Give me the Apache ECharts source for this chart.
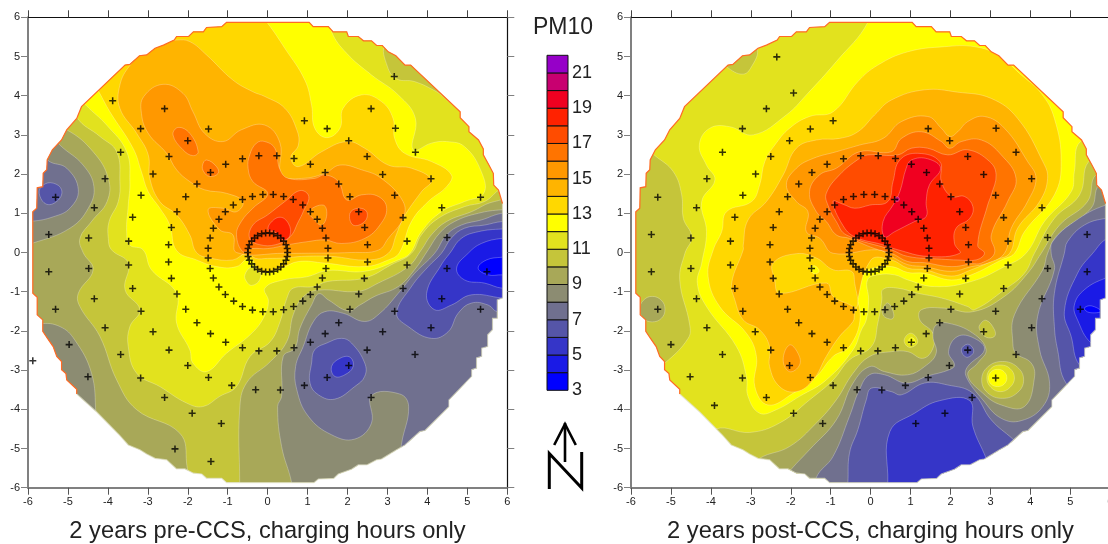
<!DOCTYPE html>
<html><head><meta charset="utf-8">
<style>html,body{margin:0;padding:0;background:#fff}#c{width:1108px;height:544px}</style>
<script src="https://cdn.jsdelivr.net/npm/echarts@6/dist/echarts.min.js"></script>
</head><body><div id="c"></div>
<script>
// Colour of each 1-unit PM10 band, keyed by the band's lower bound
const bandLevels=[3,4,5,6,7,8,9,10,11,12,13,14,15,16,17,18,19,20,21];
const bandColors=['#0000ff','#1a1ae6','#3535c8','#5555a8','#70708f','#8c8c72','#a8a858','#c5c53a','#e2e21e','#ffff00','#ffd800','#ffb400','#ff9800','#ff7400','#ff4c00','#ff2200','#f00020','#c80070','#9600c8'];
const legendTicks=[3,5,7,9,11,13,15,17,19,21];

// Outline of the sampled disc
const rimUpper=[[-4.78,-3.61],[-4.78,-3.49],[-5.03,-3.25],[-5.05,-3.09],[-5.16,-2.99],[-5.16,-2.78],[-5.28,-2.65],[-5.37,-2.40],[-5.52,-2.18],[-5.63,-2.01],[-5.63,-1.72],[-5.77,-1.59],[-5.77,-1.14],[-5.88,-1.04],[-5.88,1.04],[-5.78,1.13],[-5.77,1.65],[-5.63,1.68],[-5.62,2.02],[-5.53,2.11],[-5.52,2.36],[-5.39,2.62],[-5.16,2.87],[-5.03,3.13],[-4.78,3.42],[-4.66,3.72],[-3.57,4.78],[-3.45,4.80],[-3.21,5.02],[-3.03,5.04],[-2.82,5.21],[-2.61,5.29],[-2.34,5.42],[-2.28,5.51],[-1.98,5.51],[-1.86,5.63],[-1.61,5.63],[-1.53,5.74],[-1.15,5.76],[-1.03,5.87],[1.04,5.87],[1.14,5.76],[1.52,5.76],[1.64,5.63],[1.98,5.63],[2.02,5.51],[2.27,5.51],[2.40,5.40],[2.60,5.40],[2.73,5.28],[2.87,5.28],[3.02,5.12],[3.21,5.02],[3.44,4.78],[3.58,4.78],[4.82,3.59],[4.82,3.44],[5.04,3.21],[5.04,3.08],[5.28,2.87],[5.40,2.64],[5.40,2.49],[5.54,2.23],[5.65,2.02],[5.66,1.72],[5.78,1.59],[5.88,1.25]];
const rimLower=[[5.88,1.25],[5.88,-1.16],[5.75,-1.21],[5.75,-1.68],[5.63,-1.68],[5.63,-1.97],[5.51,-2.10],[5.51,-2.40],[5.36,-2.44],[5.36,-2.65],[5.23,-2.69],[5.23,-2.95],[5.11,-2.99],[5.11,-3.16],[4.54,-3.76],[4.54,-3.93],[3.94,-4.54],[3.81,-4.57],[3.44,-4.91],[3.23,-5.03],[2.85,-5.27],[2.73,-5.29],[2.48,-5.42],[2.27,-5.42],[2.10,-5.53],[1.77,-5.65],[1.66,-5.76],[1.27,-5.78],[1.16,-5.87],[-1.03,-5.87],[-1.15,-5.76],[-1.53,-5.76],[-1.65,-5.65],[-1.86,-5.63],[-2.07,-5.52],[-2.28,-5.52],[-2.53,-5.29],[-2.82,-5.25],[-3.03,-5.14],[-3.20,-5.03],[-3.49,-4.91],[-3.70,-4.67],[-4.28,-4.07],[-4.78,-3.61]];
const wholeSquare=[[-8,-8],[-8,8],[8,8],[8,-8]];

// ---------- pre-CCS contours (data units) ----------
const preWest10=[[-5.03,3.13],[-4.37,2.57],[-3.99,1.89],[-4.02,1.30],[-4.41,0.79],[-4.70,0.36],[-4.62,0.0],[-4.37,-0.44],[-4.74,-1.04],[-4.70,-1.38],[-4.2,-2.14],[-3.78,-3.25],[-3.28,-4.01],[-2.2,-4.61],[-2.03,-5.37],[-2.05,-6.2],[-4,-6.4],[-6.5,-4],[-6.5,1],[-5.8,3.4]];
const preWest9=[[-5.2,2.74],[-4.62,2.23],[-4.35,1.68],[-4.49,1.13],[-4.95,0.62],[-5.88,0.24],[-6.5,0.1],[-6.5,2.74],[-5.6,3.2]];
const preSouthWest9=[[-5.7,-1.82],[-5.2,-1.89],[-4.83,-2.23],[-4.41,-3.08],[-4.3,-4.1],[-4.3,-4.5],[-5.5,-4],[-6.2,-2]];
const preWest8=[[-5.49,2.34],[-5.03,2.15],[-4.74,1.60],[-4.95,1.13],[-5.37,0.91],[-5.88,0.80],[-6.4,0.8],[-6.4,2.4],[-5.6,2.6]];
const preWest7=[[-5.72,1.51],[-5.62,1.72],[-5.37,1.77],[-5.16,1.60],[-5.24,1.34],[-5.53,1.23]];
const preHigh11=[[-4.77,3.44],[-4.2,2.96],[-3.78,2.57],[-3.7,1.81],[-3.74,1.30],[-3.97,0.79],[-3.99,0.36],[-3.91,0.07],[-3.49,-0.27],[-3.57,-0.95],[-3.2,-1.46],[-3.45,-1.89],[-3.49,-2.40],[-3.28,-3.08],[-2.7,-3.42],[-2.03,-3.84],[-1.62,-3.93],[-1.2,-3.67],[-0.78,-3.42],[-0.44,-2.65],[0.06,-2.28],[0.31,-1.77],[0.48,-1.17],[0.64,-0.91],[1.14,-0.87],[1.5,-0.74],[2.43,-0.65],[3.1,-0.31],[3.6,-0.02],[3.85,0.45],[4.27,0.87],[4.93,1.17],[5.43,1.30],[5.73,1.55],[6.1,1.9],[6.2,4],[3,6.3],[-2,6.3],[-5,4.2]];
const preNorthEast10=[[2.95,5.3],[3.0,4.74],[3.23,4.43],[3.68,4.36],[4.23,4.10],[4.7,3.8],[5,4.4],[3.6,5.4]];
const preSe10=[[-0.7,-6.3],[-0.7,-5.87],[-0.7,-4.01],[-0.53,-3.33],[0.06,-2.79],[0.48,-2.27],[0.64,-1.59],[0.89,-1.13],[1.27,-0.96],[2.27,-0.99],[2.77,-0.78],[3.52,-0.36],[3.85,0.07],[4.1,0.45],[4.48,0.79],[5.1,1.04],[5.68,1.3],[6.3,1.3],[6.6,-3],[6.3,-6.3]];
const preSe9=[[0.6,-6.2],[0.6,-5.87],[0.35,-4.95],[0.25,-3.93],[0.35,-3.67],[0.39,-2.65],[0.68,-2.44],[0.81,-1.93],[1.1,-1.34],[1.28,-1.05],[1.52,-1.21],[2.02,-1.49],[2.31,-1.34],[2.68,-1.12],[3.27,-0.87],[3.68,-0.44],[4.02,0.07],[4.31,0.50],[4.68,0.79],[5.27,1.0],[5.87,1.09],[6.5,1.09],[6.6,-3],[6.5,-6.2]];
const preSe8=[[6.5,1.0],[5.87,1.0],[5.35,0.83],[4.85,0.70],[4.48,0.45],[4.18,-0.02],[3.68,-0.53],[3.27,-1.04],[2.81,-1.55],[2.43,-1.76],[1.89,-1.55],[1.43,-1.51],[1.14,-1.77],[0.89,-2.40],[0.7,-2.91],[0.73,-3.50],[1.02,-4.18],[1.6,-4.65],[2.18,-4.76],[2.6,-4.35],[2.6,-3.65],[3.31,-3.61],[3.53,-3.93],[3.35,-4.90],[3.3,-5.6],[6.5,-5.6]];
const preSe7=[[5.87,0.79],[5.43,0.70],[4.93,0.62],[4.6,0.37],[4.35,-0.02],[4.02,-0.36],[3.6,-0.87],[3.23,-1.55],[3.52,-1.89],[4.1,-2.19],[4.52,-2.02],[4.77,-1.55],[5.1,-1.29],[5.52,-1.34],[5.75,-1.51],[6.4,-1.5],[6.4,0.79]];
const preCentre7=[[1.18,-2.48],[1.48,-2.31],[1.85,-2.19],[2.1,-2.31],[2.43,-2.82],[2.43,-3.16],[2.18,-3.42],[1.68,-3.74],[1.27,-3.63],[1.06,-3.33],[1.1,-2.82]];
const preCentre6=[[1.6,-2.91],[1.81,-2.70],[2.06,-2.67],[2.14,-2.91],[1.93,-3.12],[1.68,-3.16]];
const preSe6=[[5.87,0.6],[5.27,0.53],[4.85,0.36],[4.56,-0.02],[4.35,-0.31],[3.98,-1.04],[4.18,-1.46],[4.6,-1.34],[5.1,-1.08],[5.87,-1.16],[6.4,-1.2],[6.4,0.6]];
const preSe5=[[5.87,0.36],[5.35,0.23],[5.02,-0.02],[4.73,-0.40],[4.93,-0.70],[5.43,-0.78],[5.87,-0.91],[6.4,-0.9],[6.4,0.36]];
const preSe4=[[5.27,-0.40],[5.48,-0.19],[5.87,-0.12],[6.2,-0.1],[6.2,-0.6],[5.87,-0.57],[5.52,-0.57]];
const preHigh12=[[-4.55,3.76],[-4.03,3.25],[-3.53,2.57],[-3.45,1.81],[-3.49,1.21],[-3.53,0.53],[-3.45,0.19],[-3.12,0.07],[-2.91,-0.44],[-2.28,-1.04],[-2.28,-1.80],[-1.95,-2.48],[-1.87,-2.82],[-1.53,-3.04],[-1.03,-2.57],[-0.44,-2.1],[-0.11,-1.68],[0.02,-1.25],[-0.07,-0.91],[0.39,-0.7],[0.98,-0.62],[1.5,-0.46],[2.43,-0.48],[3.27,-0.19],[3.56,-0.02],[3.85,0.53],[4.35,1.04],[4.93,1.30],[5.41,1.51],[5.35,2.06],[4.93,2.70],[4.48,2.83],[4.1,2.79],[3.64,2.62],[3.7,3.42],[3.27,4.02],[2.6,4.53],[1.98,5.08],[1.6,5.63],[1.5,6.2],[-2,6.3],[-5,4.3]];
const prePocket11=[[-0.57,-0.57],[-0.4,-0.36],[-0.2,-0.4],[-0.2,-0.7],[-0.4,-0.84],[-0.53,-0.74]];
const preHigh13=[[-4.22,4.09],[-3.95,3.59],[-3.37,2.66],[-3.16,2.06],[-2.99,1.55],[-2.7,1.13],[-2.45,0.70],[-2.28,0.05],[-1.78,-0.19],[-1.28,-0.36],[-0.78,-0.36],[-0.45,-0.14],[-0.2,-0.5],[0,-0.5],[0.35,-0.4],[0.77,-0.23],[1.43,-0.27],[2.43,-0.36],[3.02,-0.19],[3.3,0.0],[3.6,0.79],[4.02,1.30],[4.48,1.68],[4.6,1.98],[4.1,2.32],[3.43,2.53],[3.18,2.91],[3.14,3.42],[2.85,3.85],[2.35,4.02],[1.89,3.68],[1.81,3.17],[1.48,2.93],[1.18,3.17],[1.1,3.76],[0.93,4.40],[0.43,5.21],[0,5.85],[-0.3,6.2],[-3.5,5.8],[-4.4,4.4]];
const preHigh14=[[-3.45,4.77],[-3.7,4.27],[-3.7,3.68],[-3.28,3.04],[-2.99,2.49],[-2.95,1.89],[-2.7,1.3],[-2.28,0.96],[-1.95,0.45],[-1.78,0.0],[-1.45,-0.14],[-0.87,-0.19],[-0.53,-0.02],[-0.3,-0.15],[0,-0.15],[0.43,-0.14],[0.85,-0.1],[1.6,-0.1],[2.52,-0.19],[3.02,-0.02],[3.22,0.45],[3.39,0.87],[3.85,1.55],[4.1,1.85],[3.6,2.15],[3.02,2.23],[2.43,2.66],[1.98,2.83],[1.35,2.57],[0.77,2.19],[0.58,2.42],[0.77,2.74],[0.73,3.13],[0.43,3.68],[-0.07,3.98],[-0.37,4.1],[-0.87,4.40],[-1.53,5.04],[-1.95,5.38],[-2.28,5.42],[-2.7,5.34],[-3.03,5.17]];
const preHigh15=[[-3.16,3.55],[-3.1,3.98],[-2.62,4.29],[-2.12,4.06],[-1.87,3.59],[-1.58,3.04],[-1.12,2.83],[-0.66,3.13],[-0.07,3.25],[0.31,2.79],[0.35,1.98],[0.85,1.89],[1.43,2.02],[1.81,2.23],[2.35,2.11],[2.85,1.89],[3.39,1.30],[3.39,0.87],[3.02,0.36],[2.77,0.06],[2.1,0.0],[0.85,-0.02],[0.43,-0.02],[-0.78,0],[-0.87,0.45],[-1.2,0.58],[-1.49,1.09],[-1.12,1.13],[-0.78,1.04],[-0.62,1.30],[-1.03,1.51],[-1.58,1.6],[-1.95,1.81],[-2.28,2.11],[-2.53,2.53],[-2.99,3.04]];
const preNw16=[[-2.37,3.0],[-2.24,3.19],[-1.95,3.04],[-1.74,2.57],[-1.87,2.47],[-2.12,2.62]];
const preMid16=[[-1.63,2.23],[-1.53,2.36],[-1.28,2.19],[-1.24,2.02],[-1.45,1.94],[-1.6,2.06]];
const preHigh16=[[-0.45,2.49],[-0.28,2.79],[-0.07,2.83],[0.18,2.66],[0.31,2.11],[0.52,1.89],[1.18,1.89],[1.43,1.98],[1.77,1.81],[1.98,1.34],[2.35,1.47],[2.77,1.43],[2.98,1.13],[2.81,0.70],[2.43,0.36],[1.85,0.23],[1.43,0.32],[1.02,0.28],[0.52,0.2],[0,0.1],[-0.4,0.1],[-0.62,0.02],[-0.78,0.45],[-0.66,0.79],[-0.37,1.13],[0,1.5],[-0.37,1.81],[-0.49,2.15]];
const prePocket15=[[1.02,1.04],[1.39,1.21],[1.48,0.96],[1.35,0.70],[1.14,0.87]];
const preEast17=[[2.06,1.0],[2.27,1.13],[2.48,1.04],[2.43,0.79],[2.14,0.70]];
const preHigh17=[[-0.45,0.36],[-0.37,0.70],[0,0.96],[0.43,1.3],[0.81,1.58],[1.03,1.43],[0.89,1.04],[0.77,0.79],[0.56,0.4],[0.2,0.2],[-0.2,0.2]];
const preHigh18=[[0.06,0.74],[0.31,0.9],[0.52,0.74],[0.56,0.44],[0.39,0.32],[0.18,0.53],[0.02,0.57]];
const preLayers=[[10,wholeSquare],[9,preWest10],[8,preWest9],[8,preSouthWest9],[7,preWest8],[6,preWest7],[11,preHigh11],[10,preNorthEast10],[9,preSe10],[8,preSe9],[7,preSe8],[6,preSe7],[6,preCentre7],[5,preCentre6],[5,preSe6],[4,preSe5],[3,preSe4],[12,preHigh12],[11,prePocket11],[13,preHigh13],[14,preHigh14],[15,preHigh15],[16,preNw16],[16,preMid16],[16,preHigh16],[15,prePocket15],[17,preEast17],[17,preHigh17],[18,preHigh18]];

// ---------- post-CCS contours (data units) ----------
const postWest10=[[-5.4,2.47],[-4.94,2.06],[-4.73,1.47],[-4.69,0.87],[-4.48,0.4],[-4.65,-0.02],[-4.78,-0.7],[-4.53,-1.85],[-4.57,-2.19],[-5.15,-2.82],[-5.7,-3.2],[-6.4,-2],[-6.4,2],[-5.7,2.7]];
const postNw10=[[-3.61,4.74],[-3.19,4.55],[-2.96,4.78],[-2.83,5.17],[-3.0,5.5],[-3.8,5.0]];
const postWest9=[[-5.15,-1.45],[-5.24,-1.22],[-5.47,-1.12],[-5.69,-1.22],[-5.78,-1.45],[-5.69,-1.68],[-5.47,-1.77],[-5.24,-1.68]];
const postLow10=[[-4.1,-5.0],[-3.86,-4.5],[-3.03,-4.59],[-2.28,-4.35],[-1.53,-3.76],[-0.94,-3.25],[-0.53,-2.74],[0.02,-2.4],[0.18,-1.8],[0.28,-1.21],[0.31,-0.94],[0.68,-0.91],[1.18,-1.04],[1.77,-1.16],[2.43,-1.38],[2.6,-1.46],[3.35,-0.95],[3.85,-0.53],[4.1,-0.02],[4.6,0.87],[5.23,1.47],[5.46,2.32],[6,2.4],[6.4,-3],[6.3,-6.3],[-4.1,-6.3]];
const postLow9=[[-2.78,-5.25],[-2.03,-4.95],[-1.36,-4.35],[-0.86,-3.76],[-0.44,-3.08],[-0.02,-2.65],[0.52,-2.53],[0.93,-2.53],[1.31,-2.7],[1.56,-2.44],[1.56,-2.06],[1.23,-1.72],[1.27,-1.46],[1.85,-1.42],[2.56,-1.51],[3.35,-1.12],[3.93,-0.53],[4.27,-0.02],[4.73,0.7],[5.43,1.3],[5.64,1.98],[6.2,2.0],[6.4,-3],[6.3,-6.3],[-3,-6.3],[-3.1,-5.6]];
const postPatch10=[[2.73,-1.85],[2.89,-1.73],[3.1,-1.97],[3.1,-2.14],[2.89,-2.16],[2.73,-1.97]];
const postPatch9=[[0.31,-1.42],[0.43,-1.29],[0.56,-1.5],[0.56,-1.68],[0.42,-1.68],[0.31,-1.59]];
const postDot11=[[0.85,-2.19],[1.02,-2.06],[1.18,-2.27],[1.02,-2.42],[0.88,-2.36]];
const postDot12=[[0.95,-2.25],[1.03,-2.17],[1.12,-2.28],[1.02,-2.35]];
const postLow8=[[-1.98,-5.52],[-1.53,-5.03],[-0.86,-4.27],[-0.44,-3.33],[-0.02,-2.91],[0.35,-3.04],[0.93,-3.12],[1.35,-2.91],[1.64,-2.57],[1.56,-2.14],[1.64,-1.85],[1.93,-1.8],[2.56,-2.06],[2.89,-2.48],[2.68,-2.82],[2.43,-3.12],[2.81,-3.59],[3.27,-3.89],[3.85,-3.93],[4.1,-3.2],[4.02,-2.82],[3.64,-2.57],[3.56,-2.31],[3.6,-1.59],[4.31,-0.44],[4.43,-0.02],[4.68,0.45],[5.52,1.13],[5.72,1.72],[6.2,1.8],[6.4,-3],[6.3,-6.3],[-2,-6.3],[-2.1,-5.7]];
const postHot10=[[2.78,-3.25],[2.93,-2.92],[3.3,-2.78],[3.67,-2.92],[3.83,-3.25],[3.67,-3.58],[3.3,-3.72],[2.93,-3.58]];
const postHot11=[[2.91,-3.2],[3.01,-2.96],[3.25,-2.87],[3.49,-2.96],[3.6,-3.2],[3.49,-3.44],[3.25,-3.55],[3.01,-3.44]];
const postHot12=[[2.95,-3.2],[3.02,-3.04],[3.18,-2.98],[3.34,-3.04],[3.41,-3.2],[3.34,-3.36],[3.18,-3.42],[3.02,-3.36]];
const postLow7=[[-1.36,-5.74],[-0.94,-5.2],[-0.53,-4.18],[-0.28,-3.5],[-0.03,-3.12],[0.35,-3.12],[0.89,-3.33],[1.43,-3.15],[1.97,-2.99],[2.1,-2.87],[1.95,-2.53],[2.18,-2.14],[2.6,-2.19],[2.85,-2.48],[2.43,-2.91],[2.39,-3.16],[2.81,-3.76],[3.27,-4.23],[3.77,-4.29],[4.31,-3.93],[4.48,-3.33],[4.23,-2.48],[4.18,-1.63],[4.6,-0.44],[4.52,-0.02],[4.56,0.28],[5.1,0.79],[5.89,1.21],[6.3,1.2],[6.4,-3],[6.3,-6.3],[-1.4,-6.3]];
const postSouth6=[[-0.57,-5.87],[-0.53,-5.12],[-0.32,-4.52],[-0.11,-3.76],[0.02,-3.46],[0.52,-3.55],[0.77,-3.63],[1.35,-3.33],[1.93,-3.38],[2.56,-3.59],[3.02,-4.27],[3.56,-4.76],[3.8,-5.0],[3.8,-6.3],[-0.6,-6.3]];
const postEast6=[[5.89,0.87],[5.35,0.7],[4.93,0.28],[4.85,-0.02],[4.6,-1.04],[4.6,-1.89],[4.68,-2.48],[4.89,-3.33],[5.5,-3.8],[6.3,-3.8],[6.3,0.87]];
const postBlob6=[[2.27,-2.48],[2.42,-2.34],[2.56,-2.44],[2.56,-2.58],[2.39,-2.67]];
const postSouth5=[[0.43,-6.3],[0.43,-5.87],[0.48,-4.57],[1.1,-4.1],[1.73,-3.78],[2.48,-3.78],[2.56,-4.44],[2.89,-5.25],[3.0,-5.6],[3,-6.3]];
const postEast5=[[5.93,0.36],[5.56,-0.02],[5.18,-0.53],[4.85,-1.5],[5.02,-2.14],[5.23,-2.87],[5.8,-3.2],[6.3,-3],[6.3,0.36]];
const postEast4=[[5.89,-0.65],[5.35,-0.95],[5.1,-1.34],[5.18,-1.72],[5.52,-2.31],[6,-2.5],[6.3,-1],[6.2,-0.6]];
const postEast3=[[5.35,-1.42],[5.52,-1.36],[5.77,-1.5],[5.47,-1.53]];
const postHigh12=[[-0.07,5.87],[-0.86,4.87],[-1.61,4.02],[-2.11,3.51],[-2.94,3.0],[-3.53,3.21],[-4.03,3.17],[-4.29,2.74],[-4.11,2.23],[-3.9,1.85],[-4.23,1.3],[-4.11,0.53],[-4.23,-0.27],[-4.34,-0.78],[-4.11,-1.38],[-3.36,-2.4],[-3.11,-3.16],[-3.07,-3.67],[-2.78,-4.1],[-2.36,-4.01],[-1.78,-3.67],[-1.11,-3.25],[-0.44,-2.48],[-0.23,-1.97],[-0.11,-1.72],[-0.05,-1.21],[-0.08,-0.7],[0.18,-0.57],[0.6,-0.57],[0.93,-0.7],[1.6,-0.87],[2.52,-0.74],[3.35,-0.36],[3.89,-0.02],[4.35,0.79],[5.02,1.55],[5.1,2.06],[5.25,2.83],[6,3],[5,5],[2,6.3],[-0.1,6.3]];
const postHigh13=[[4.27,4.06],[4.6,3.42],[4.77,2.32],[4.6,1.47],[3.85,0.53],[3.6,-0.02],[3.27,-0.19],[2.52,-0.57],[2.02,-0.7],[1.35,-0.53],[0.93,-0.51],[0.52,-0.36],[-0.07,-0.44],[-0.44,-0.7],[-0.26,-1.63],[-0.53,-2.4],[-0.94,-2.65],[-1.36,-3.16],[-1.94,-3.59],[-2.57,-3.89],[-2.9,-3.42],[-2.86,-2.65],[-3.11,-2.06],[-3.78,-1.38],[-4.07,-0.61],[-3.94,0.07],[-3.73,0.53],[-3.61,1.04],[-2.98,1.3],[-2.78,1.72],[-2.65,2.32],[-2.4,2.74],[-2.03,3.17],[-1.53,3.47],[-0.94,3.59],[-0.32,4.36],[0.18,4.78],[0.93,5.12],[1.85,5.25],[2.6,5.25],[3.18,5.04],[3.77,4.53]];
const postHigh14=[[0.52,3.89],[1.35,4.15],[2.18,4.09],[3.02,3.93],[3.68,3.42],[4.31,2.32],[4.43,1.89],[4.23,1.3],[3.68,0.62],[3.48,-0.02],[3.1,-0.19],[2.52,-0.44],[2.02,-0.6],[1.35,-0.44],[0.93,-0.4],[0.52,-0.19],[0,-0.2],[-0.4,-1.55],[-0.44,-1.76],[-0.78,-2.14],[-1.11,-2.65],[-1.44,-3.25],[-1.86,-3.55],[-2.28,-3.42],[-2.53,-2.91],[-2.53,-2.4],[-2.78,-1.97],[-3.19,-1.72],[-3.4,-1.21],[-3.48,-0.78],[-3.19,0.07],[-3.19,0.19],[-3.07,0.83],[-2.61,1.3],[-2.19,1.98],[-1.86,2.66],[-1.36,2.87],[-0.78,2.91],[-0.32,3.08],[0.1,3.51]];
const postPocket13=[[-2.44,-0.27],[-1.86,-0.03],[-1.36,-0.14],[-0.94,-0.44],[-0.48,-0.48],[-0.4,-0.78],[-0.34,-1.38],[-0.61,-1.29],[-0.94,-1.12],[-1.11,-0.78],[-2.28,-1.04],[-2.4,-0.7]];
const postPocket12=[[-1.52,-0.4],[-1.4,-0.34],[-1.29,-0.48],[-1.42,-0.54]];
const postHigh15=[[0.31,2.91],[0.77,3.34],[1.43,3.47],[1.77,3.17],[1.98,2.96],[2.18,3.08],[2.43,3.34],[2.85,3.47],[3.35,3.17],[3.93,2.32],[4.14,1.89],[3.93,1.3],[3.52,0.62],[3.35,-0.02],[2.93,-0.27],[2.52,-0.36],[2.02,-0.48],[1.35,-0.36],[0.93,-0.31],[0.52,-0.1],[0.18,0.07],[-0.94,-0.02],[-1.27,0.36],[-1.61,0.53],[-1.57,1.04],[-1.86,1.3],[-2.11,1.72],[-1.86,2.15],[-1.44,2.4],[-0.86,2.57],[-0.28,2.74]];
const postSouth15=[[-2.19,-2.74],[-2.03,-2.36],[-1.82,-2.57],[-1.78,-2.87],[-2.03,-3.04]];
const postHigh16=[[0.52,2.57],[0.77,2.91],[1.27,3.08],[1.77,2.83],[1.98,2.66],[2.27,2.83],[2.77,2.87],[3.27,2.49],[3.64,1.89],[3.43,1.3],[3.02,0.45],[3.1,-0.02],[2.77,-0.27],[2.52,-0.29],[2.02,-0.36],[1.35,-0.26],[0.93,-0.23],[0.52,-0.02],[0.1,0.1],[-0.53,0.36],[-0.86,0.45],[-1.11,0.79],[-1.36,1.04],[-1.53,1.55],[-1.28,1.98],[-0.86,2.15],[-0.28,2.57]];
const postHigh17=[[0.68,2.49],[1.02,2.66],[1.43,2.66],[1.93,2.49],[2.43,2.62],[2.98,2.32],[3.14,1.98],[3.02,1.47],[2.93,1.21],[2.68,0.19],[2.85,-0.02],[2.64,-0.19],[2.18,-0.19],[1.77,-0.17],[0.93,-0.1],[0.52,0.07],[-0.61,0.45],[-0.86,0.79],[-1.07,1.21],[-1.11,1.51],[-0.78,1.98],[-0.28,2.4],[-0.07,2.49]];
const postHigh18=[[-0.94,1.3],[-0.69,1.23],[-0.4,1.13],[-0.02,1.21],[0.43,1.3],[0.56,1.81],[0.73,2.36],[1.18,2.53],[1.73,2.32],[1.77,1.81],[2.02,1.43],[2.35,1.43],[2.56,1.17],[2.48,0.87],[2.14,0.62],[2.1,0.23],[2.23,-0.02],[1.43,-0.1],[0.68,0.07],[0.3,0.2],[-0.4,0.4],[-0.7,0.7]];
const postHigh19=[[0.89,2.15],[1.02,2.36],[1.43,2.39],[1.75,2.15],[1.47,1.72],[1.39,1.3],[1.39,0.92],[1.1,0.79],[0.6,0.53],[0.35,0.4],[0.31,0.79],[0.56,1.21],[0.73,1.55]];
const postHigh20=[[0.6,1.37],[0.68,1.42],[0.72,1.34],[0.65,1.3]];
const postLayers=[[11,wholeSquare],[10,postWest10],[10,postNw10],[9,postWest9],[10,postLow10],[9,postLow9],[10,postPatch10],[9,postPatch9],[11,postDot11],[12,postDot12],[8,postLow8],[10,postHot10],[11,postHot11],[12,postHot12],[7,postLow7],[6,postSouth6],[6,postEast6],[6,postBlob6],[5,postSouth5],[5,postEast5],[4,postEast4],[3,postEast3],[12,postHigh12],[13,postHigh13],[14,postHigh14],[13,postPocket13],[12,postPocket12],[15,postHigh15],[15,postSouth15],[16,postHigh16],[17,postHigh17],[18,postHigh18],[19,postHigh19],[20,postHigh20]];

// ---------- sampling stations ----------
const preStations=[[-3.88,3.87],[-2.58,3.67],[-3.18,3.16],[-1.48,3.15],[-2.0,2.85],[-3.68,2.56],[-2.47,2.45],[-1.05,2.25],[-0.63,2.39],[-0.22,2.47],[-1.43,2.04],[-2.87,2.0],[-4.07,1.88],[-1.77,1.75],[-3.17,1.46],[-2.05,1.42],[-5.31,1.41],[-0.63,1.35],[-0.38,1.43],[-0.12,1.48],[-0.86,1.21],[-4.34,1.14],[-1.06,1.04],[-2.27,1.04],[-1.22,0.85],[-3.38,0.9],[-2.41,0.64],[-1.36,0.62],[-5.48,0.46],[-4.48,0.37],[-1.44,0.37],[-3.48,0.29],[-2.48,0.2],[-1.49,0.11],
[3.17,4.49],[2.59,3.67],[0.92,3.36],[1.49,3.16],[3.2,3.17],[2.03,2.85],[3.7,2.56],[0.23,2.47],[0.66,2.4],[2.49,2.45],[1.07,2.25],[1.44,2.04],[2.88,1.99],[4.09,1.88],[1.78,1.75],[0.14,1.48],[0.4,1.43],[0.64,1.35],[0.88,1.21],[2.06,1.42],[3.18,1.46],[5.33,1.41],[4.36,1.14],[1.07,1.04],[2.28,1.04],[1.24,0.85],[3.39,0.89],[1.37,0.62],[2.43,0.64],[1.46,0.37],[4.49,0.38],[1.51,0.11],[2.5,0.2],[3.49,0.29],
[-5.88,-2.76],[-5.48,-0.49],[-4.48,-0.41],[-3.48,-0.32],[-2.48,-0.24],[-1.49,-0.14],[-2.41,-0.66],[-1.44,-0.41],[-1.36,-0.65],[-3.38,-0.92],[-1.22,-0.88],[-2.27,-1.06],[-1.06,-1.07],[-4.34,-1.18],[-0.85,-1.24],[-0.63,-1.38],[-0.38,-1.47],[-0.12,-1.51],[-5.31,-1.45],[-3.17,-1.5],[-2.05,-1.45],[-1.77,-1.79],[-4.07,-1.92],[-2.87,-2.02],[-1.43,-2.07],[-1.05,-2.29],[-4.97,-2.35],[-0.63,-2.43],[-2.47,-2.49],[-0.22,-2.51],[-3.68,-2.6],[-2.0,-2.88],[-4.5,-3.17],[-3.18,-3.2],[-1.48,-3.19],[-0.9,-3.39],[-0.3,-3.5],[-2.58,-3.7],[-1.89,-4.1],[-1.16,-4.36],[-2.32,-5.01],[-1.42,-5.33],
[0.14,-1.51],[0.4,-1.46],[0.65,-1.38],[0.88,-1.24],[1.07,-1.07],[1.24,-0.88],[1.37,-0.65],[1.46,-0.41],[1.51,-0.14],[2.5,-0.24],[3.49,-0.32],[4.49,-0.41],[5.49,-0.49],[2.42,-0.66],[3.39,-0.92],[2.28,-1.06],[4.36,-1.18],[2.06,-1.45],[3.18,-1.5],[5.33,-1.45],[1.78,-1.79],[4.09,-1.92],[2.88,-2.02],[1.44,-2.07],[1.07,-2.29],[0.66,-2.43],[0.23,-2.51],[2.49,-2.49],[3.69,-2.6],[2.03,-2.88],[1.49,-3.19],[0.92,-3.39],[0.32,-3.51],[2.59,-3.7]];
const preRing=[[0.5,0],[0.49,0.1],[0.46,0.2],[0.4,0.29],[0.33,0.37],[0.25,0.43],[0.15,0.48],[0.05,0.5],[-0.05,0.5],[-0.15,0.48],[-0.25,0.43],[-0.33,0.37],[-0.4,0.29],[-0.46,0.2],[-0.49,0.1],[-0.5,0],[-0.49,-0.1],[-0.46,-0.2],[-0.4,-0.29],[-0.33,-0.37],[-0.25,-0.43],[-0.15,-0.48],[-0.05,-0.5],[0.05,-0.5],[0.15,-0.48],[0.25,-0.43],[0.33,-0.37],[0.4,-0.29],[0.46,-0.2],[0.49,-0.1]];
const postStations=[[-2.35,4.99],[-1.93,4.07],[-2.61,3.67],[-3.21,3.16],[-1.51,3.15],[-0.94,3.36],[-2.03,2.85],[-3.71,2.56],[-2.5,2.45],[-0.68,2.39],[-0.25,2.47],[-1.09,2.25],[-1.47,2.04],[-2.88,2.0],[-4.1,1.88],[-1.8,1.75],[-5.33,1.41],[-3.2,1.46],[-2.08,1.42],[-0.68,1.35],[-0.43,1.43],[-0.17,1.48],[-0.9,1.21],[-4.36,1.14],[-1.09,1.04],[-2.29,1.04],[-1.27,0.85],[-3.4,0.9],[-2.44,0.64],[-1.39,0.62],[-5.49,0.46],[-4.5,0.37],[-1.48,0.37],[-3.51,0.29],[-2.52,0.2],[-1.52,0.11],
[3.14,3.17],[1.44,3.16],[1.98,2.85],[3.64,2.56],[0.19,2.47],[0.62,2.4],[2.43,2.45],[1.02,2.25],[1.4,2.04],[2.83,1.99],[4.03,1.88],[1.73,1.75],[0.1,1.48],[0.36,1.43],[0.6,1.35],[0.83,1.21],[2.01,1.42],[3.13,1.46],[1.03,1.04],[2.23,1.04],[4.29,1.14],[1.19,0.85],[3.33,0.89],[1.33,0.62],[2.38,0.64],[1.42,0.37],[4.43,0.38],[5.42,0.46],[1.46,0.11],[2.45,0.2],[3.44,0.29],
[-5.49,-0.49],[-4.5,-0.41],[-3.51,-0.32],[-2.52,-0.24],[-1.52,-0.14],[-2.44,-0.66],[-1.48,-0.41],[-1.39,-0.65],[-3.4,-0.92],[-1.27,-0.88],[-2.29,-1.06],[-1.09,-1.07],[-4.36,-1.18],[-0.9,-1.24],[-0.68,-1.38],[-0.43,-1.47],[-0.17,-1.51],[-5.33,-1.45],[-3.2,-1.5],[-2.08,-1.45],[-1.8,-1.79],[-4.1,-1.92],[-2.89,-2.02],[-1.47,-2.07],[-1.09,-2.29],[-5.0,-2.35],[-0.68,-2.43],[-2.5,-2.49],[-0.25,-2.51],[-3.71,-2.6],[-2.03,-2.88],[-4.52,-3.17],[-3.21,-3.2],[-1.51,-3.19],[-0.94,-3.39],[-0.34,-3.5],[-2.61,-3.7],[-3.91,-3.9],[-1.93,-4.1],[-1.2,-4.36],
[0.1,-1.51],[0.36,-1.46],[0.6,-1.38],[0.83,-1.24],[1.03,-1.07],[1.19,-0.88],[1.33,-0.65],[1.42,-0.41],[1.46,-0.14],[2.45,-0.24],[3.44,-0.32],[4.43,-0.41],[5.42,-0.49],[2.38,-0.66],[3.33,-0.92],[2.23,-1.06],[4.29,-1.18],[2.01,-1.45],[3.13,-1.5],[5.25,-1.45],[1.73,-1.79],[4.03,-1.92],[2.83,-2.02],[1.39,-2.07],[1.02,-2.29],[0.62,-2.43],[0.18,-2.51],[2.43,-2.49],[3.64,-2.6],[1.97,-2.88],[1.44,-3.19],[3.13,-3.2],[0.87,-3.39],[0.28,-3.51],[2.54,-3.7],[1.86,-4.1],[1.13,-4.36]];
const postRing=[[0.46,0],[0.45,0.1],[0.42,0.2],[0.36,0.29],[0.29,0.37],[0.21,0.43],[0.11,0.48],[0.01,0.5],[-0.09,0.5],[-0.19,0.48],[-0.29,0.43],[-0.37,0.37],[-0.44,0.29],[-0.5,0.2],[-0.53,0.1],[-0.54,0],[-0.53,-0.1],[-0.5,-0.2],[-0.44,-0.29],[-0.37,-0.37],[-0.29,-0.43],[-0.19,-0.48],[-0.09,-0.5],[0.01,-0.5],[0.11,-0.48],[0.21,-0.43],[0.29,-0.37],[0.36,-0.29],[0.42,-0.2],[0.45,-0.1]];

const captions=['2 years pre-CCS, charging hours only','2 years post-CCS, charging hours only'];

const plus='path://M3.9 0h2.2v3.9h3.9v2.2h-3.9v3.9h-2.2v-3.9h-3.9v-2.2h3.9z';
const colorOf=l=>bandColors[bandLevels.indexOf(l)];
const chart=echarts.init(document.getElementById('c'),null,{renderer:'canvas'});

function contourSeries(layers,idx){
  const rim=rimUpper.concat(rimLower);
  return {type:'custom',xAxisIndex:idx,yAxisIndex:idx,coordinateSystem:'cartesian2d',clip:false,silent:true,z:2,
    data:layers.map((l,i)=>[i,l[0]]).concat([[layers.length,0],[layers.length+1,0]]),
    encode:{x:-1,y:-1},
    renderItem(p,api){
      const i=p.dataIndex, n=layers.length;
      if(i>=n){
        return {type:'polyline',shape:{points:(i===n?rimLower:rimUpper).map(c=>api.coord(c))},
          style:{fill:null,stroke:i===n?'rgba(225,225,205,0.7)':'#ff6a25',lineWidth:1.2}};
      }
      const pts=layers[i][1].map(c=>api.coord(c));
      return {type:'polygon',shape:{points:pts,smooth:layers[i][1]===wholeSquare?0:0.42},
        clipPath:{type:'polygon',shape:{points:rim.map(c=>api.coord(c))}},
        style:{fill:colorOf(layers[i][0]),stroke:'rgba(255,255,255,0.38)',lineWidth:0.7}};
    }};
}
function stationSeries(data,idx){
  return {type:'scatter',xAxisIndex:idx,yAxisIndex:idx,data:data,symbol:plus,symbolSize:7,silent:true,z:5,
    itemStyle:{color:'#000'},clip:false};
}
const grey='#808080';
const xA=(g,pos,lab)=>({type:'value',gridIndex:g,position:pos,min:-6,max:6,interval:1,splitLine:{show:false},
  axisLine:{onZero:false,show:true,lineStyle:{color:pos==='bottom'?grey:'#111',width:pos==='bottom'?2:1.2}},
  axisTick:{show:true,length:7,lineStyle:{color:pos==='bottom'?'#555':'#444',width:1}},
  axisLabel:{show:lab,margin:9,fontSize:11,color:'#222',fontFamily:'Liberation Sans',showMinLabel:true,showMaxLabel:true}});
const yA=(g,pos,lab)=>({type:'value',gridIndex:g,position:pos,min:-6,max:6,interval:1,splitLine:{show:false},
  axisLine:{onZero:false,show:true,lineStyle:{color:pos==='left'?grey:'#111',width:pos==='left'?2:1.2}},
  axisTick:{show:true,length:7,lineStyle:{color:grey,width:1}},
  axisLabel:{show:lab,margin:8,fontSize:11,color:'#222',fontFamily:'Liberation Sans',showMinLabel:true,showMaxLabel:true}});

const T=(text,x,y,size)=>({type:'text',x:x,y:y,style:{text,font:size+'px "Liberation Sans"',fill:'#222',align:'center',verticalAlign:'middle'}});
const L=(pts,w)=>({type:'polyline',shape:{points:pts},style:{stroke:'#000',lineWidth:w,fill:null}});

chart.setOption({animation:false,backgroundColor:'#fff',
  grid:[{left:28,top:17.3,width:479.3,height:470.4,outerBoundsMode:'none'},{left:631,top:17.3,width:479.3,height:470.4,outerBoundsMode:'none'},{left:547,top:55.3,width:21,height:335,outerBoundsMode:'none'}],
  xAxis:[xA(0,'bottom',true),xA(1,'bottom',true),
    {type:'value',gridIndex:2,min:0,max:1,show:false},
    xA(0,'top',false),xA(1,'top',false)],
  yAxis:[yA(0,'left',true),yA(1,'left',true),
    {type:'value',gridIndex:2,position:'right',min:3,max:22,interval:2,splitLine:{show:false},axisLine:{show:false},axisTick:{show:false},
      axisLabel:{show:true,margin:4,fontSize:18,color:'#222',fontFamily:'Liberation Sans',showMaxLabel:false,showMinLabel:true,
        formatter:v=>legendTicks.includes(v)?String(v):''}},
    yA(0,'right',false),yA(1,'right',false)],
  series:[
    contourSeries(preLayers,0),contourSeries(postLayers,1),
    stationSeries(preStations,0),stationSeries(preRing,0),
    stationSeries(postStations,1),stationSeries(postRing,1),
    {type:'custom',xAxisIndex:2,yAxisIndex:2,coordinateSystem:'cartesian2d',silent:true,clip:false,
      data:bandLevels.map(l=>[0,l]),
      renderItem(p,api){
        const l=bandLevels[p.dataIndex],a=api.coord([0,l]),b=api.coord([1,l+1]);
        return {type:'rect',shape:{x:a[0],y:b[1],width:b[0]-a[0],height:a[1]-b[1]},
          style:{fill:bandColors[p.dataIndex],stroke:'#111',lineWidth:1}};
      }}
  ],
  graphic:{elements:[
    T('PM10',563,28,23),
    T(captions[0],267.5,531,23.7),
    T(captions[1],870.5,531,23.7),
    L([[565,462],[565,423]],2.6),
    L([[554.2,445],[565,424],[575.8,445]],2.6),
    L([[549.3,489],[549.3,453.5],[581.7,488],[581.7,452]],3)
  ]}
});
</script></body></html>
